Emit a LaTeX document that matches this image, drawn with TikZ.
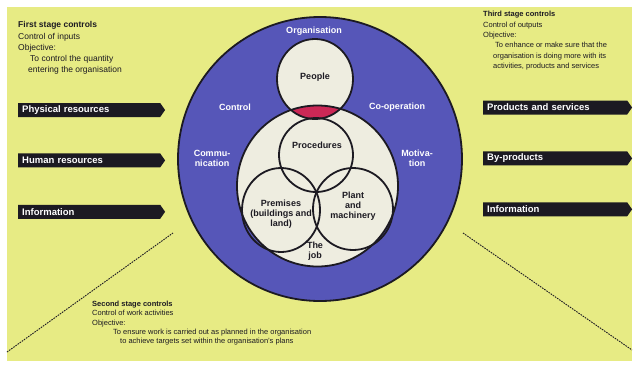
\documentclass[tikz,border=0pt]{standalone}
\usepackage{fontspec}
\setmainfont{Liberation Sans}
\usetikzlibrary{positioning, shapes.symbols}
\definecolor{paper}{RGB}{231,235,132}
\definecolor{ringblue}{RGB}{86,86,184}
\definecolor{disc}{RGB}{238,237,224}
\definecolor{lensred}{RGB}{204,40,86}
\definecolor{ink}{RGB}{28,26,34}
\tikzset{
  x=1pt, y=-1pt,
  flow/.style={
    signal, signal to=east, signal pointer angle=110,
    fill=ink, text=white, anchor=west,
    font=\fontsize{9.5}{10}\selectfont\bfseries,
    minimum height=14pt, inner ysep=0pt, inner xsep=4pt, align=left
  },
  notes/.style={anchor=north west, inner sep=0pt, align=left, text=ink},
  lab/.style={font=\fontsize{9}{10}\selectfont\bfseries, align=center, inner sep=0pt, text=ink},
  ringlab/.style={lab, text=white},
  rim/.style={draw=ink, line width=1.8pt},
  dotline/.style={draw=ink, line width=0.9pt, dash pattern=on 1.6pt off 1pt}
}

\begin{document}
\begin{tikzpicture}
    \useasboundingbox (0,0) rectangle (633,365);
    \fill[paper] (7,7) rectangle (632,361);

    % the organisation and what it holds
    \filldraw[rim, fill=ringblue] (320,159) circle [radius=142pt];
    \fill[disc] (317.5,186) circle [radius=80.5pt];
    \fill[disc] (315,79) ellipse [x radius=38pt, y radius=40pt];
    \begin{scope}
      \clip (315,79) ellipse [x radius=38pt, y radius=40pt];
      \fill[lensred] (317.5,186) circle [radius=80.5pt];
    \end{scope}
    \draw[rim] (317.5,186) circle [radius=80.5pt];
    \draw[rim] (315,79) ellipse [x radius=38pt, y radius=40pt];
    \draw[rim] (316,155) circle [radius=37pt];
    \draw[rim] (281,210) ellipse [x radius=39pt, y radius=42pt];
    \draw[rim] (353,209) ellipse [x radius=40pt, y radius=41pt];

    \node[ringlab] (organisation) at (314,31) {Organisation};
    \node[lab] (people) at (315,77) {People};
    \node[ringlab] (control) at (235,107) {Control};
    \node[ringlab] (cooperation) at (397,107) {Co-operation};
    \node[ringlab] (communication) at (212,158) {Commu-\\nication};
    \node[ringlab] (motivation) at (417,158) {Motiva-\\tion};
    \node[lab] (procedures) at (317,145) {Procedures};
    \node[lab] (premises) at (281,214) {Premises\\(buildings and\\land)};
    \node[lab] (plant) at (353,206) {Plant\\and\\machinery};
    \node[lab] (job) at (315,251) {The\\job};

    % inputs and outputs
    \node[flow, text width=134pt] (physical) at (18,110) {Physical resources};
    \node[flow, text width=134pt, below=36pt of physical.south west, anchor=north west] (human) {Human resources};
    \node[flow, text width=134pt, below=37pt of human.south west, anchor=north west] (infoin) {Information};
    \node[flow, text width=136pt] (products) at (483,107.5) {Products and services};
    \node[flow, text width=136pt, below=36.5pt of products.south west, anchor=north west] (byproducts) {By-products};
    \node[flow, text width=136pt, below=36.5pt of byproducts.south west, anchor=north west] (infoout) {Information};

    % the three stages of control
    \node[notes, font=\fontsize{8.5}{11.2}\selectfont] (firststage) at (18,21.5) {%
      \textbf{First stage controls}\\
      Control of inputs\\
      Objective:\\
      \hspace*{12pt}To control the quantity\\
      \hspace*{10pt}entering the organisation};
    \node[notes, font=\fontsize{7.5}{10.4}\selectfont] (thirdstage) at (483,11) {%
      \textbf{Third stage controls}\\
      Control of outputs\\
      Objective:\\
      \hspace*{12pt}To enhance or make sure that the\\
      \hspace*{10pt}organisation is doing more with its\\
      \hspace*{10pt}activities, products and services};
    \node[notes, font=\fontsize{7.5}{9.2}\selectfont] (secondstage) at (92,301) {%
      \textbf{Second stage controls}\\
      Control of work activities\\
      Objective:\\
      \hspace*{21pt}To ensure work is carried out as planned in the organisation\\
      \hspace*{28pt}to achieve targets set within the organisation's plans};

    \coordinate (leftfoot) at (7,352);
    \coordinate (lefthead) at (173,233);
    \coordinate (righthead) at (463,233);
    \coordinate (rightfoot) at (632,350);
    \draw[dotline] (leftfoot) -- (lefthead);
    \draw[dotline] (righthead) -- (rightfoot);
\end{tikzpicture}
\end{document}
